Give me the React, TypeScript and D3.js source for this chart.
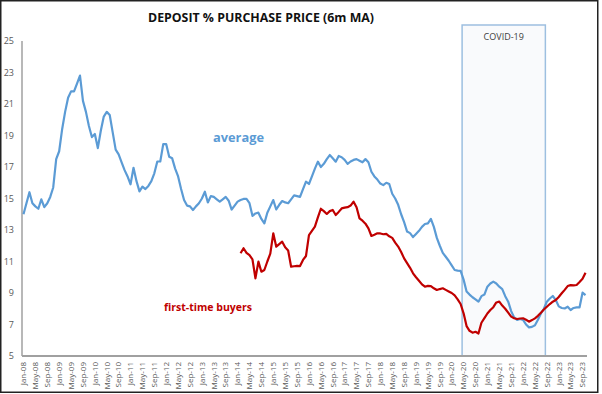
import * as d3 from "d3";

const W = 602;
const H = 394;

// monthly categories Jan-08 .. Oct-23
const months = d3.timeMonth.range(new Date(2008, 0, 1), new Date(2023, 10, 1));
const fmt = d3.timeFormat("%b-%y");
const tickLabels = months.filter((m) => m.getMonth() % 4 === 0).map(fmt);

const yTicks = [5, 7, 9, 11, 13, 15, 17, 19, 21, 23, 25];

const average = [
  14.0, 14.7, 15.4, 14.7, 14.5, 14.35, 14.95, 14.45, 14.7, 15.1, 15.7, 17.5,
  18.0, 19.4, 20.5, 21.4, 21.8, 21.8, 22.3, 22.8, 21.2, 20.5, 19.6, 18.9,
  19.1, 18.2, 19.3, 20.2, 20.5, 20.3, 19.2, 18.1, 17.8, 17.3, 16.8, 16.4,
  15.9, 16.95, 16.1, 15.45, 15.75, 15.6, 15.8, 16.1, 16.6, 17.35, 17.35, 18.45,
  18.45, 17.65, 17.55, 16.9, 16.4, 15.6, 14.9, 14.55, 14.5, 14.27, 14.5, 14.7,
  15.0, 15.43, 14.75, 15.15, 15.1, 14.95, 14.8, 14.95, 15.1, 14.86, 14.3, 14.55,
  14.8, 14.9, 14.97, 14.97, 14.7, 13.9, 14.05, 14.1, 13.7, 13.42, 14.1, 14.5,
  14.9, 14.3, 14.6, 14.84, 14.75, 14.7, 14.95, 15.2, 15.15, 15.1, 15.6, 16.07,
  15.92, 16.4, 16.9, 17.34, 17.0, 17.2, 17.5, 17.76, 17.55, 17.34, 17.7, 17.62,
  17.45, 17.2, 17.35, 17.45, 17.5, 17.4, 17.3, 17.5, 17.3, 16.7, 16.4, 16.2,
  15.95, 15.85, 16.0, 15.92, 15.3, 15.0, 14.6, 14.0, 13.5, 12.9, 12.8, 12.55,
  12.75, 12.95, 13.2, 13.38, 13.42, 13.7, 13.2, 12.5, 12.0, 11.55, 11.3, 11.05,
  10.75, 10.46, 10.42, 10.41, 9.85, 9.1, 8.9, 8.73, 8.6, 8.45, 8.8, 8.9,
  9.4, 9.6, 9.72, 9.6, 9.4, 9.25, 8.8, 8.45, 7.85, 7.45, 7.29, 7.35,
  7.29, 7.0, 6.82, 6.85, 6.95, 7.3, 7.7, 8.0, 8.45, 8.65, 8.81, 8.55,
  8.15, 8.05, 8.02, 8.13, 7.92, 8.05, 8.09, 8.09, 9.02, 8.87,
];

// first-time buyers, starts Feb-14 (month index 73)
const ftbStart = 73;
const firstTime = [
  11.52, 11.84, 11.55, 11.4, 11.14, 9.93, 10.99, 10.35, 10.46, 11.0, 11.5,
  12.79, 11.94, 12.1, 12.26, 11.9, 11.7, 10.67, 10.7, 10.72, 10.71, 11.1, 11.35,
  12.68, 12.95, 13.21, 13.8, 14.35, 14.2, 14.02, 14.2, 14.27, 13.95, 14.15, 14.37,
  14.42, 14.45, 14.55, 14.8, 14.44, 13.74, 13.59, 13.4, 13.1, 12.62, 12.7, 12.79,
  12.78, 12.73, 12.75, 12.6, 12.5, 12.2, 11.95, 11.6, 11.2, 10.9, 10.6, 10.25,
  10.0, 9.78, 9.55, 9.4, 9.45, 9.44, 9.3, 9.19, 9.25, 9.3, 9.2, 9.1,
  9.0, 8.85, 8.6, 8.3, 7.71, 6.9, 6.6, 6.48, 6.54, 6.43, 7.11, 7.4,
  7.7, 7.92, 8.1, 8.4, 8.45, 8.2, 8.0, 7.75, 7.5, 7.4, 7.35, 7.38,
  7.39, 7.3, 7.18, 7.28, 7.39, 7.55, 7.75, 7.95, 8.13, 8.3, 8.45, 8.55,
  8.75, 8.98, 9.2, 9.44, 9.5, 9.48, 9.51, 9.7, 9.9, 10.29,
];

const covidFrom = "May-20";
const covidTo = "Sep-22";

const FONT = "'Open Sans', 'DejaVu Sans', sans-serif";

export default function App() {
  const left = 22;
  const right = 587;
  const top = 41;
  const bottom = 356;

  const labels = months.map(fmt);
  const x = d3.scaleBand<string>().domain(labels).range([left, right]);
  const cx = (i: number) => (x(labels[i]) ?? 0) + x.bandwidth() / 2;
  const y = d3.scaleLinear().domain([5, 25]).range([bottom, top]);

  const line = d3
    .line<number>()
    .x((_, i) => cx(i))
    .y((d) => y(d))
    .curve(d3.curveLinear);
  const ftbLine = d3
    .line<number>()
    .x((_, i) => cx(i + ftbStart))
    .y((d) => y(d));

  const covX0 = x(covidFrom) ?? 0;
  const covX1 = x(covidTo) ?? 0;

  return (
    <svg
      width={W}
      height={H}
      style={{ position: "absolute", left: 0, top: 0, background: "#fff" }}
      fontFamily={FONT}
    >
      <rect x={0.75} y={0.75} width={597} height={391.5} fill="#fff" stroke="#222" strokeWidth={1.5} />
      <text
        x={261}
        y={22}
        textAnchor="middle"
        fontSize={12.5}
        fontWeight="bold"
        fill="#111"
        textLength={226}
        lengthAdjust="spacingAndGlyphs"
      >
        DEPOSIT % PURCHASE PRICE (6m MA)
      </text>

      {/* covid box */}
      <rect
        x={covX0}
        y={25}
        width={covX1 - covX0}
        height={bottom - 25}
        fill="#f9fafc"
        stroke="#9dbfe0"
        strokeWidth={1.5}
      />
      <text x={(covX0 + covX1) / 2} y={40} textAnchor="middle" fontSize={9} fill="#404040">
        COVID-19
      </text>

      {/* y ticks */}
      {yTicks.map((t) => (
        <text key={t} x={14} y={y(t) + 3} textAnchor="end" fontSize={9} fill="#595959">
          {t}
        </text>
      ))}

      {/* axes */}
      <line x1={left} x2={left} y1={top} y2={bottom} stroke="#a0a0a0" strokeWidth={1.5} />
      <line x1={left} x2={right} y1={bottom} y2={bottom} stroke="#a0a0a0" strokeWidth={2} />

      {/* x tick labels */}
      {tickLabels.map((t) => {
        const px = (x(t) ?? 0) + x.bandwidth() / 2;
        return (
          <text
            key={t}
            transform={`translate(${px + 2.8},362) rotate(-90)`}
            textAnchor="end"
            fontSize={8}
            fill="#595959"
          >
            {t}
          </text>
        );
      })}

      <path d={line(average) ?? ""} fill="none" stroke="#5b9bd5" strokeWidth={2.2} strokeLinejoin="round" />
      <path d={ftbLine(firstTime) ?? ""} fill="none" stroke="#c00000" strokeWidth={2.2} strokeLinejoin="round" />

      <text x={213} y={142} fontSize={12.5} fontWeight="bold" fill="#5b9bd5" textLength={51} lengthAdjust="spacingAndGlyphs">
        average
      </text>
      <text x={164} y={311} fontSize={11} fontWeight="bold" fill="#c00000" textLength={88} lengthAdjust="spacingAndGlyphs">
        first-time buyers
      </text>
    </svg>
  );
}
